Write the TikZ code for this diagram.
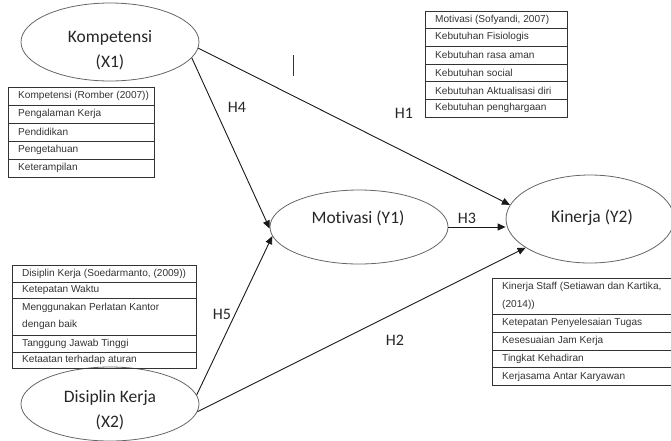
\documentclass[tikz,border=0pt]{standalone}
\usepackage{fontspec}
\setmainfont[Ligatures=NoCommon]{Carlito}
\newfontfamily\arialf{Liberation Sans}
\usetikzlibrary{shapes.geometric,arrows.meta}
\begin{document}
\begin{tikzpicture}[x=1pt,y=-1pt,
 ell/.style={ellipse, draw=black!60, line width=0.8pt, inner sep=0pt},
 lab/.style={font=\fontsize{17.5}{25}\selectfont, align=center, text=black!85},
 hyp/.style={font=\fontsize{16}{19}\selectfont, text=black!85},
 arr/.style={draw=black!90, line width=0.9pt, -{Triangle[length=8pt,width=7pt]}},
 rowbox/.style={draw=black!80, line width=0.6pt, anchor=north west, inner sep=0pt},
 rowtxt/.style={anchor=west, inner sep=0pt, font=\arialf\fontsize{10.1}{14}\selectfont, text=black!80, align=left}]
\useasboundingbox (0,0) rectangle (671,440);
\clip (0,0) rectangle (671,440);

% ellipses
\node[ell, minimum width=178pt, minimum height=78pt] (x1) at (110,42) {};
\node[ell, minimum width=178pt, minimum height=74pt] (x2) at (110,404) {};
\node[ell, minimum width=178pt, minimum height=74pt] (y1) at (359,227) {};
\node[ell, minimum width=168pt, minimum height=88pt] (y2) at (590,219) {};

\node[lab] (x1t) at (110,50) {Kompetensi\\(X1)};
\node[lab] (x2t) at (110,410) {Disiplin Kerja\\(X2)};
\node[lab] (y1t) at (358,218) {Motivasi (Y1)};
\node[lab] (y2t) at (592,218) {Kinerja (Y2)};

% connectors
\draw[arr] (x1.-4) -- (y2.170);
\draw[arr] (x1.-11) -- (y1.181);
\draw[arr] (x2.6) -- (y1.186);
\draw[arr] (x2.-5) -- (y2.204);
\draw[arr] (y1.east) -- (y1.east -| y2.west);

% hypothesis labels
\node[hyp] (h4) at (237,107) {H4};
\node[hyp] (h1) at (404,113) {H1};
\node[hyp] (h3) at (467,218) {H3};
\node[hyp] (h5) at (222,314) {H5};
\node[hyp] (h2) at (395,340) {H2};

% stray mark
\coordinate (m1) at (293,55);
\coordinate (m2) at (293,76);
\draw[black!80, line width=0.7pt] (m1) -- (m2);

% Kompetensi box
\foreach \t [count=\i from 0] in {Kompetensi (Romber (2007)), Pengalaman Kerja, Pendidikan, Pengetahuan, Keterampilan}{
  \node[rowbox, minimum width=146pt, minimum height=18pt] (ka\i) at (8, 87+18*\i) {};
  \node[rowtxt] (kt\i) at ([xshift=10pt]ka\i.west) {\t};
}

% Motivasi box
\foreach \t [count=\i from 0] in {{Motivasi (Sofyandi, 2007)}, Kebutuhan Fisiologis, Kebutuhan rasa aman, Kebutuhan social, Kebutuhan Aktualisasi diri, Kebutuhan penghargaan}{
  \node[rowbox, minimum width=142pt, minimum height=17.7pt] (ma\i) at (425, 10.5+17.7*\i) {};
  \node[rowtxt] (mt\i) at ([xshift=10pt]ma\i.west) {\t};
}

% Disiplin box
\foreach \y/\h/\t [count=\i] in {265/17/{Disiplin Kerja (Soedarmanto, (2009))}, 282/16/{Ketepatan Waktu}, 298/37/{Menggunakan Perlatan Kantor\\[3pt]dengan baik}, 335/17/{Tanggung Jawab Tinggi}, 352/16/{Ketaatan terhadap aturan}}{
  \node[rowbox, minimum width=184pt, minimum height=\h pt] (da\i) at (12,\y) {};
  \node[rowtxt] (dt\i) at ([xshift=10pt]da\i.west) {\t};
}

% Kinerja box
\foreach \y/\h/\t [count=\i] in {278/36/{Kinerja Staff (Setiawan dan Kartika,\\[4pt](2014))}, 314/17.75/{Ketepatan Penyelesaian Tugas}, 331.75/17.75/{Kesesuaian Jam Kerja}, 349.5/17.75/{Tingkat Kehadiran}, 367.25/17.75/{Kerjasama Antar Karyawan}}{
  \node[rowbox, minimum width=190pt, minimum height=\h pt] (ja\i) at (492,\y) {};
  \node[rowtxt] (jt\i) at ([xshift=10pt]ja\i.west) {\t};
}
\end{tikzpicture}
\end{document}
